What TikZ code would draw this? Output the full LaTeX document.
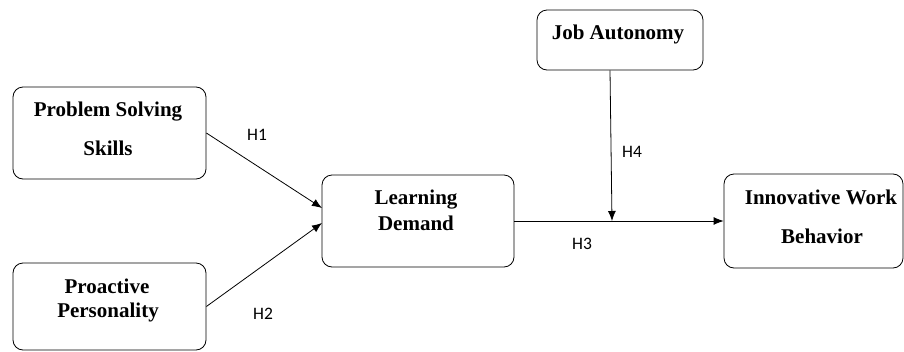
\documentclass[tikz,border=0pt]{standalone}
\usepackage{fontspec}
\setmainfont{Liberation Serif}
\newfontfamily\labfont{Carlito}
\usetikzlibrary{arrows.meta}
\begin{document}
\begin{tikzpicture}[x=1pt,y=-1pt,
  box/.style={draw, rounded corners=10pt, line width=0.8pt, inner sep=0pt},
  txt/.style={anchor=base, font=\fontsize{21}{24}\selectfont\bfseries, inner sep=0pt},
  hyp/.style={anchor=base, font=\labfont\fontsize{17.5}{20}\selectfont, inner sep=0pt},
  arr/.style={-{Latex[length=10pt,width=8pt]}, line width=0.8pt}]
\useasboundingbox (0,0) rectangle (904,351);
% boxes
\node[box, minimum width=193pt, minimum height=92pt] (ps) at (109.5,133) {};
\node[box, minimum width=193pt, minimum height=87pt] (pp) at (109.5,306.5) {};
\node[box, minimum width=192pt, minimum height=92pt] (ld) at (418,221) {};
\node[box, minimum width=166pt, minimum height=60pt] (ja) at (620,40) {};
\node[box, minimum width=179pt, minimum height=94pt] (iwb) at (813.5,221) {};
% box texts
\node[txt] (ps1) at (108,116) {Problem Solving};
\node[txt] (ps2) at (108,155) {Skills};
\node[txt] (pp1) at (107,293) {Proactive};
\node[txt] (pp2) at (108,317) {Personality};
\node[txt] (ld1) at (416,204) {Learning};
\node[txt] (ld2) at (416,230) {Demand};
\node[txt] (ja1) at (618,39) {Job Autonomy};
\node[txt] (iwb1) at (821,204) {Innovative Work};
\node[txt] (iwb2) at (822,243) {Behavior};
% connectors
\coordinate (ldin1) at (322,208);
\coordinate (ldin2) at (322,223);
\coordinate (jaout) at ([xshift=-10pt]ja.south);
\coordinate (mod) at (612,221);
\draw[arr] (ps.east) -- (ldin1);
\draw[arr] (pp.east) -- (ldin2);
\draw[arr] (ld.east) -- (iwb.west);
\draw[arr] (jaout) -- (mod);
% hypothesis labels
\node[hyp] (h1) at (257,140) {H1};
\node[hyp] (h2) at (263,319) {H2};
\node[hyp] (h3) at (582,249) {H3};
\node[hyp] (h4) at (632,157) {H4};
\end{tikzpicture}
\end{document}
